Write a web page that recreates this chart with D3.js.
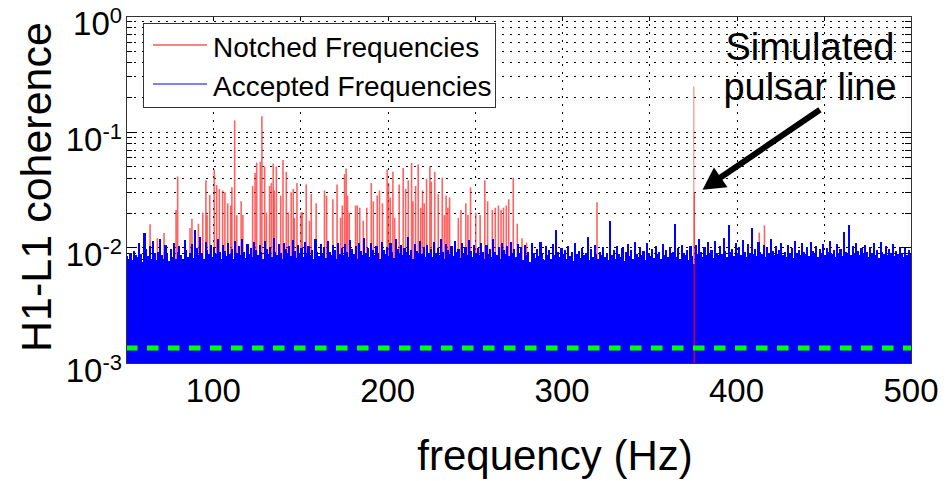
<!DOCTYPE html>
<html>
<head>
<meta charset="utf-8">
<script src="https://cdn.jsdelivr.net/npm/d3@7"></script>
<style>
  body { margin: 0; background: #fff; }
  svg { display: block; font-family: "Liberation Sans", Arial, sans-serif; }
</style>
</head>
<body>
<svg id="chart" width="951" height="481"></svg>
<script>
// accepted (blue) spectrum, one value per 1 Hz bin starting at 50 Hz, in units of 1e-4
const blueStart = 50;
const blueValues = [
  84, 80, 89, 77, 93, 86, 82, 110, 88, 75, 134, 96, 84, 102, 80, 113, 89, 78, 92, 118, 85, 79, 104, 87, 76,
  97, 83, 110, 80, 91, 102, 86, 78, 116, 94, 82, 89, 107, 81, 142, 98, 85, 124, 90, 79, 111, 95, 87, 104, 82,
  100, 88, 117, 91, 80, 105, 93, 84, 109, 87, 96, 79, 114, 90, 102, 85, 119, 92, 81, 107, 88, 98, 83, 111, 94,
  86, 104, 91, 79, 113, 96, 88, 101, 83, 120, 92, 85, 106, 90, 80, 109, 97, 87, 102, 84, 116, 93, 81, 105, 89,
  98, 82, 111, 90, 103, 86, 95, 79, 118, 92, 84, 107, 89, 100, 81, 113, 91, 86, 104, 94, 80, 110, 88, 99, 85,
  106, 91, 83, 115, 96, 87, 102, 80, 109, 93, 85, 121, 90, 98, 82, 108, 94, 86, 103, 89, 79, 112, 95, 88, 101,
  84, 110, 92, 81, 117, 97, 88, 104, 85, 99, 91, 123, 86, 95, 80, 107, 93, 89, 114, 87, 100, 82, 105, 90, 96,
  83, 111, 89, 98, 85, 119, 92, 80, 106, 94, 87, 102, 84, 113, 91, 97, 81, 108, 88, 100, 86, 116, 93, 82, 104,
  90, 99, 85, 110, 92, 79, 105, 88, 96, 83, 118, 91, 86, 101, 80, 109, 94, 87, 103, 84, 112, 89, 97, 82, 106,
  88, 100, 77, 104, 86, 92, 74, 108, 89, 81, 97, 84, 112, 90, 78, 102, 86, 94, 80, 107, 85, 140, 91, 82, 99,
  87, 95, 79, 103, 84, 91, 76, 110, 88, 93, 81, 99, 85, 90, 122, 78, 96, 83, 104, 87, 80, 92, 86, 101, 82,
  89, 77, 170, 85, 94, 80, 102, 87, 83, 98, 76, 91, 106, 84, 95, 79, 112, 88, 82, 100, 86, 93, 78, 109, 90,
  84, 97, 81, 103, 88, 92, 79, 107, 85, 94, 82, 100, 87, 91, 160, 83, 98, 80, 104, 89, 86, 95, 78, 102, 84,
  72, 105, 88, 117, 92, 83, 100, 86, 111, 89, 94, 81, 114, 90, 85, 102, 88, 120, 93, 82, 157, 91, 97, 84, 108,
  89, 101, 86, 115, 92, 83, 106, 90, 147, 88, 96, 84, 112, 91, 87, 104, 82, 98, 89, 117, 93, 85, 102, 88, 95,
  110, 86, 92, 83, 105, 90, 98, 81, 114, 89, 94, 85, 108, 91, 87, 100, 84, 111, 93, 88, 103, 82, 96, 90, 107,
  85, 99, 91, 113, 87, 94, 82, 106, 89, 97, 84, 135, 92, 88, 157, 86, 102, 90, 110, 93, 85, 98, 87, 104, 91,
  83, 100, 89, 108, 86, 95, 81, 111, 92, 88, 103, 85, 97, 90, 106, 84, 93, 87, 101, 89, 82, 98, 86, 94, 88
];

// notched (red) lines
const notchedFreqs = [
  63.8, 68, 71.8, 78.7, 79.6, 86.7, 87.8, 91.5, 94, 95.8, 96.5, 98, 100.6, 102, 103.5, 105.4, 106.7, 108.3, 110, 110.7,
  112.3, 113.5, 116, 117, 122.6, 124, 124.9, 127, 127.9, 129.5, 130.5, 132.3, 133.3, 134.4, 135, 136.2, 138.7, 140, 141.9, 143,
  144.7, 145.9, 146.5, 148, 150.3, 151, 153.3, 155.2, 156.2, 159, 163.8, 165, 168.6, 171, 173, 174, 175.3, 176.2, 177, 178,
  181.6, 182.6, 184, 186, 188, 190.6, 191.8, 194, 195.3, 197, 199.7, 200.5, 201.5, 203, 204, 206.6, 208.9, 210.3, 211.8, 213.7,
  214.5, 216, 217.5, 219, 220, 221, 222.3, 224.2, 225, 227, 229, 231.3, 232.5, 233.5, 234.5, 235.5, 240.5, 242, 244.8, 246,
  247.5, 250.5, 253, 255.7, 257.3, 260, 261.7, 263.5, 265, 266.4, 268, 269.4, 272, 274.3, 277, 279.6, 320, 413, 416
];
const notchedValues = [
  0.0158, 0.012, 0.0133, 0.021, 0.041, 0.0147, 0.0177, 0.016, 0.020, 0.038, 0.019, 0.0285, 0.047, 0.0345, 0.032, 0.031, 0.030, 0.024, 0.023, 0.033,
  0.125, 0.019, 0.025, 0.019, 0.034, 0.044, 0.054, 0.055, 0.136, 0.050, 0.020, 0.034, 0.036, 0.053, 0.031, 0.050, 0.028, 0.057, 0.045, 0.020,
  0.030, 0.032, 0.018, 0.036, 0.020, 0.020, 0.035, 0.017, 0.029, 0.024, 0.031, 0.028, 0.026, 0.035, 0.018, 0.023, 0.043, 0.048, 0.028, 0.020,
  0.023, 0.023, 0.022, 0.017, 0.022, 0.036, 0.025, 0.028, 0.031, 0.024, 0.047, 0.036, 0.027, 0.045, 0.018, 0.035, 0.0485, 0.032, 0.038, 0.0537,
  0.025, 0.034, 0.052, 0.022, 0.031, 0.024, 0.039, 0.050, 0.037, 0.045, 0.029, 0.040, 0.019, 0.028, 0.022, 0.027, 0.018, 0.021, 0.024, 0.019,
  0.033, 0.020, 0.019, 0.038, 0.025, 0.021, 0.022, 0.023, 0.021, 0.022, 0.023, 0.026, 0.040, 0.016, 0.012, 0.011, 0.0245, 0.0134, 0.0155
];

// simulated pulsar line
const pulsarFreqs = [375.5, 375.8];
const pulsarValues = [0.246, 0.030];

const threshold = 1.35e-3;

const xTicks = [50, 100, 150, 200, 250, 300, 350, 400, 450, 500];
const xTickLabels = ["", "100", "", "200", "", "300", "", "400", "", "500"];
const yDecades = [-3, -2, -1, 0];

const legendLabels = ["Notched Frequencies", "Accepted Frequencies"];
const legendColors = ["#ff0000", "#0000ff"];

// annotation arrow in data coordinates: [tail, tip]
const arrowPoints = [[447.8, 0.155], [380.5, 0.0315]];

const svg = d3.select("#chart");
const plotLeft = 126, plotRight = 911, plotTop = 16, plotBottom = 363;

const x = d3.scaleLinear().domain([50, 500]).range([plotLeft, plotRight]);
const y = d3.scaleLog().domain([1e-3, 1]).range([plotBottom, plotTop]);

svg.append("rect").attr("width", 951).attr("height", 481).attr("fill", "#fff");

svg.append("clipPath").attr("id", "plot-clip")
  .append("rect")
  .attr("x", plotLeft).attr("y", plotTop)
  .attr("width", plotRight - plotLeft).attr("height", plotBottom - plotTop);

// grid
const gridG = svg.append("g")
  .attr("stroke", "#000")
  .attr("stroke-width", 1)
  .attr("stroke-dasharray", "2,6");

xTicks.filter(t => t > 50 && t < 500).forEach(t => {
  gridG.append("line")
    .attr("x1", Math.round(x(t)) + 0.5).attr("x2", Math.round(x(t)) + 0.5)
    .attr("y1", plotTop).attr("y2", plotBottom);
});

const yMinor = [];
yDecades.slice(0, 3).forEach(d => {
  for (let k = 1; k <= 9; k++) yMinor.push(k * Math.pow(10, d));
});
yMinor.filter(v => v > 1e-3).forEach(v => {
  gridG.append("line")
    .attr("x1", plotLeft).attr("x2", plotRight)
    .attr("y1", Math.round(y(v)) + 0.5).attr("y2", Math.round(y(v)) + 0.5);
});

// ticks (drawn under the data, like matlab's bottom layer)
const tickG = svg.append("g").attr("stroke", "#000").attr("stroke-width", 1);
yMinor.filter(v => v > 1e-3).forEach(v => {
  const major = Math.abs(Math.log10(v) - Math.round(Math.log10(v))) < 1e-9;
  const len = major ? 11 : 6;
  const yy = Math.round(y(v)) + 0.5;
  tickG.append("line").attr("x1", plotLeft).attr("x2", plotLeft + len).attr("y1", yy).attr("y2", yy);
  tickG.append("line").attr("x1", plotRight).attr("x2", plotRight - len).attr("y1", yy).attr("y2", yy);
});
xTicks.forEach(t => {
  const xx = Math.round(x(t)) + 0.5;
  tickG.append("line").attr("x1", xx).attr("x2", xx).attr("y1", plotTop).attr("y2", plotTop + 5);
  tickG.append("line").attr("x1", xx).attr("x2", xx).attr("y1", plotBottom).attr("y2", plotBottom - 5);
});

const plotG = svg.append("g").attr("clip-path", "url(#plot-clip)");

// notched lines
plotG.append("g")
  .selectAll("line")
  .data(notchedFreqs.map((f, i) => ({ f: f, v: notchedValues[i] })))
  .join("line")
  .attr("x1", d => x(d.f)).attr("x2", d => x(d.f))
  .attr("y1", plotBottom).attr("y2", d => y(d.v))
  .attr("stroke", "#ff2020")
  .attr("stroke-width", 1.6)
  .attr("stroke-opacity", 0.7);

// accepted spectrum
const binW = x(blueStart + 1) - x(blueStart);
plotG.append("g")
  .attr("shape-rendering", "crispEdges")
  .selectAll("rect")
  .data(blueValues.map((v, i) => ({ f: blueStart + i, v: v * 1e-4 })))
  .join("rect")
  .attr("x", d => x(d.f))
  .attr("width", binW + 0.4)
  .attr("y", d => y(d.v))
  .attr("height", d => plotBottom - y(d.v))
  .attr("fill", "#0000ff");

// pulsar line on top
plotG.append("g")
  .selectAll("line")
  .data(pulsarFreqs.map((f, i) => ({ f: f, v: pulsarValues[i] })))
  .join("line")
  .attr("x1", d => x(d.f)).attr("x2", d => x(d.f))
  .attr("y1", plotBottom).attr("y2", d => y(d.v))
  .attr("stroke", "#ff0000")
  .attr("stroke-width", 1)
  .attr("stroke-opacity", (d, i) => i === 0 ? 0.55 : 0.8);

// threshold
plotG.append("line")
  .attr("x1", plotLeft).attr("x2", plotRight)
  .attr("y1", y(threshold)).attr("y2", y(threshold))
  .attr("stroke", "#00ff00")
  .attr("stroke-width", 5)
  .attr("stroke-dasharray", "11.5,9.5");

// axes box
svg.append("rect")
  .attr("x", plotLeft + 0.5).attr("y", plotTop + 0.5)
  .attr("width", plotRight - plotLeft).attr("height", plotBottom - plotTop)
  .attr("fill", "none")
  .attr("stroke", "#333")
  .attr("stroke-width", 1);

// x tick labels
svg.append("g")
  .selectAll("text")
  .data(xTicks.map((t, i) => ({ t: t, label: xTickLabels[i] })).filter(d => d.label))
  .join("text")
  .attr("x", d => x(d.t))
  .attr("y", 402)
  .attr("text-anchor", "middle")
  .attr("font-size", 33)
  .attr("fill", "#000")
  .text(d => d.label);

// y tick labels with superscripts
yDecades.forEach(d => {
  const t = svg.append("text")
    .attr("x", 122)
    .attr("y", y(Math.pow(10, d)) + 19)
    .attr("text-anchor", "end")
    .attr("fill", "#000");
  t.append("tspan").attr("font-size", 33).text("10");
  t.append("tspan").attr("font-size", 22).attr("dy", -12).text(d === 0 ? "0" : "-" + Math.abs(d));
});

// axis titles
svg.append("text")
  .attr("x", 555).attr("y", 470)
  .attr("text-anchor", "middle")
  .attr("font-size", 42)
  .text("frequency (Hz)");

svg.append("text")
  .attr("transform", "translate(51,187) rotate(-90)")
  .attr("text-anchor", "middle")
  .attr("font-size", 43)
  .text("H1-L1 coherence");

// legend
const legend = svg.append("g");
legend.append("rect")
  .attr("x", 143.5).attr("y", 23.5)
  .attr("width", 352).attr("height", 84)
  .attr("fill", "#fff")
  .attr("stroke", "#333");
legendLabels.forEach((lab, i) => {
  const ly = 45 + i * 39;
  legend.append("line")
    .attr("x1", 153).attr("x2", 207)
    .attr("y1", ly).attr("y2", ly)
    .attr("stroke", legendColors[i])
    .attr("stroke-width", 1);
  legend.append("text")
    .attr("x", 213).attr("y", ly + 12)
    .attr("font-size", 28)
    .text(lab);
});

// annotation
svg.append("text")
  .attr("x", 810).attr("y", 60)
  .attr("text-anchor", "middle")
  .attr("font-size", 38)
  .text("Simulated");
svg.append("text")
  .attr("x", 810).attr("y", 100)
  .attr("text-anchor", "middle")
  .attr("font-size", 38)
  .text("pulsar line");

const tail = [x(arrowPoints[0][0]), y(arrowPoints[0][1])];
const tip = [x(arrowPoints[1][0]), y(arrowPoints[1][1])];
const dx = tip[0] - tail[0], dy = tip[1] - tail[1];
const len = Math.hypot(dx, dy);
const ux = dx / len, uy = dy / len;
const headL = 22, headW = 12;
const base = [tip[0] - ux * headL, tip[1] - uy * headL];

svg.append("line")
  .attr("x1", tail[0]).attr("y1", tail[1])
  .attr("x2", base[0] + ux * 2).attr("y2", base[1] + uy * 2)
  .attr("stroke", "#000")
  .attr("stroke-width", 6);
svg.append("path")
  .attr("d", d3.line()([
    tip,
    [base[0] - uy * headW, base[1] + ux * headW],
    [base[0] + uy * headW, base[1] - ux * headW]
  ]) + "Z")
  .attr("fill", "#000");
</script>
</body>
</html>
